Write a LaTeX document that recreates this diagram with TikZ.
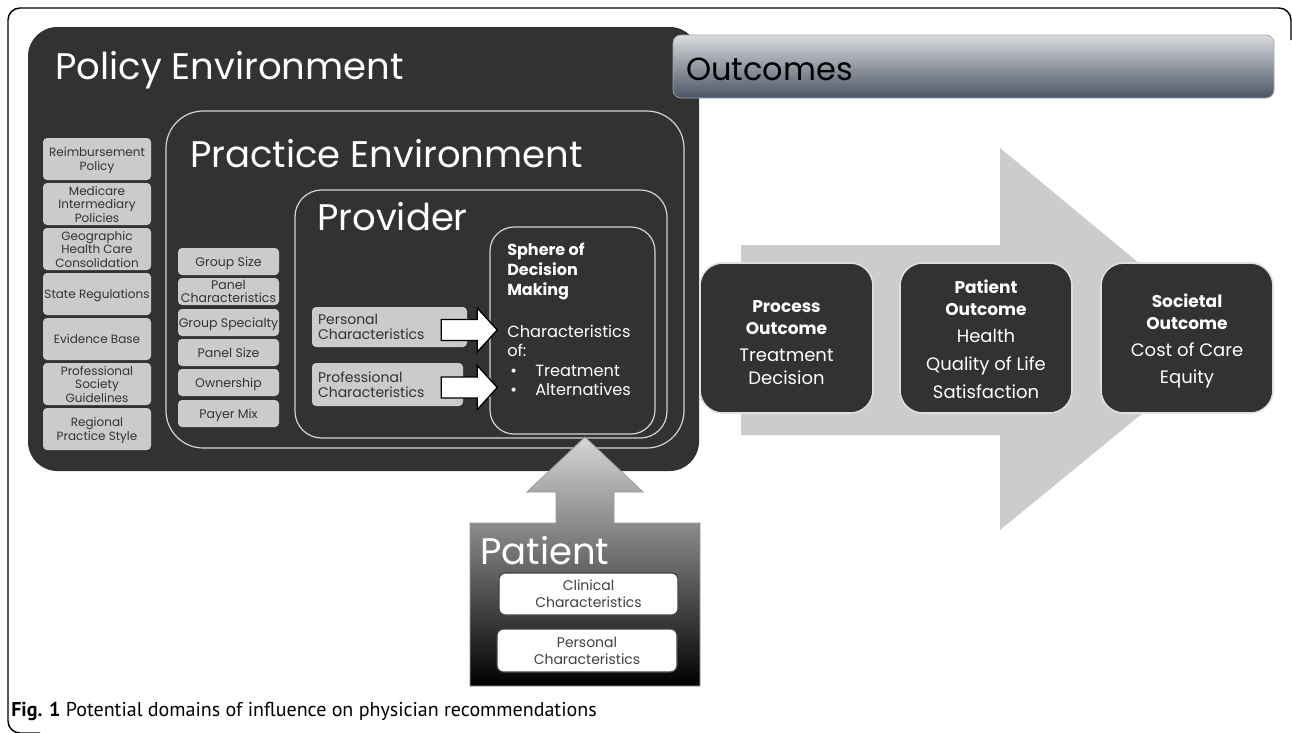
\documentclass[tikz,border=0pt]{standalone}
\usepackage{fontspec}
\setmainfont{Poppins}
\newfontfamily\capfont{PT Sans}
\usetikzlibrary{calc,fit}
\definecolor{dark}{HTML}{323232}
\definecolor{lightbox}{HTML}{CBCBCB}
\definecolor{linegray}{HTML}{D4D4D4}
\definecolor{arrowgray}{HTML}{CCCCCC}
\definecolor{textdark}{HTML}{333333}
\definecolor{bartop}{HTML}{DADCDF}
\definecolor{barbot}{HTML}{4A5464}
\definecolor{pattop}{HTML}{D6D6D6}
\newcommand\pxs[2]{\fontsize{\fpeval{#1*0.75}pt}{\fpeval{#2*0.75}pt}\selectfont}
\newcommand\cstack[1]{\begin{tabular}{@{}c@{}}#1\end{tabular}}
\newcommand\lstack[1]{\begin{tabular}{@{}l@{}}#1\end{tabular}}
\begin{document}
\begin{tikzpicture}[x=0.75pt,y=-0.75pt,
  graybox/.style={fill=lightbox, draw=none, rounded corners=3pt, inner sep=0pt},
  gtext/.style={anchor=center, inner sep=0pt, yshift=-1.5pt, text=textdark, font=\pxs{12}{13.5}},
  mtext/.style={gtext, font=\pxs{12.5}{13}},
  ptext/.style={anchor=west, inner sep=0pt, yshift=-1.5pt, text=textdark, font=\pxs{14}{15}},
  outline/.style={draw=linegray, line width=0.9pt, inner sep=0pt},
  title/.style={anchor=base west, text=white, font=\pxs{37}{40}, inner sep=0pt},
  outbox/.style={fill=dark, draw=gray!25, line width=1.2pt, rounded corners=17pt, inner sep=0pt},
  otext/.style={anchor=base, text=white, inner sep=0pt, font=\pxs{18}{20}},
  obold/.style={otext, font=\bfseries\pxs{17}{20}},
  stext/.style={anchor=base west, text=white, inner sep=0pt, font=\pxs{16.2}{20}},
  sbold/.style={stext, font=\bfseries\pxs{16}{20}},
  whitearr/.style={fill=white, draw=black, line width=1pt, line join=miter},
  patbox/.style={fill=white, draw=black!75, line width=0.8pt, rounded corners=5pt, inner sep=0pt},
  pattext/.style={anchor=center, inner sep=0pt, yshift=-1.5pt, text=black!75, font=\pxs{14}{17}}
]
\useasboundingbox (0,0) rectangle (1292,732);
% outer frame
\draw[line width=1.1pt, rounded corners=9pt] (1291,40) -- (1291,8) -- (8,8) -- (8,733) -- (40,733);
% big gray arrow
\fill[arrowgray] (741,245) -- (1000,245) -- (1000,148) -- (1232,340) -- (1000,530) -- (1000,435) -- (741,435) -- cycle;
% policy environment
\node[fill=dark, rounded corners=22pt, inner sep=0pt, fit={(28,27) (699,471)}] (policy) {};
\node[title] (poltitle) at (55,79) {Policy Environment};
% outcomes bar
\node[top color=bartop, bottom color=barbot, draw=gray!70, line width=0.5pt, rounded corners=6pt, inner sep=0pt, fit={(673,35) (1274,98)}] (outbar) {};
\node[anchor=base west, inner sep=0pt, font=\pxs{32}{36}] (outtitle) at (686,80) {Outcomes};
% practice
\node[outline, rounded corners=28pt, fit={(166,111) (684,448)}] (practice) {};
\node[title] (practitle) at (190,167) {Practice Environment};
% provider
\node[outline, rounded corners=20pt, fit={(295,190) (667,438)}] (provider) {};
\node[title] (provtitle) at (317,230) {Provider};
% sphere
\node[outline, rounded corners=18pt, fit={(490,227) (655,434)}] (sphere) {};
\node[sbold] (sp1) at (507,255) {Sphere of};
\node[sbold] (sp2) at (507,275) {Decision};
\node[sbold] (sp3) at (507,295) {Making};
\node[stext] (sp4) at (507,337) {Characteristics};
\node[stext] (sp5) at (507,356) {of:};
\node[stext] (sb1) at (510,376) {•};
\node[stext] (sp6) at (535,376) {Treatment};
\node[stext] (sb2) at (510,395) {•};
\node[stext] (sp7) at (535,395) {Alternatives};
% left column
\foreach \t [count=\i] in {{Reimbursement\\Policy},{Medicare\\Intermediary\\Policies},{Geographic\\Health Care\\Consolidation},{State Regulations},{Evidence Base},{Professional\\Society\\Guidelines},{Regional\\Practice Style}}{
  \node[graybox, fit={(43,{138+45*(\i-1)}) (151,{180+45*(\i-1)})}] (pol\i) {};
  \node[gtext] (polt\i) at (pol\i.center) {\cstack{\t}};
}
% middle column
\foreach \t/\y [count=\i] in {{Group Size}/248,{Panel\\Characteristics}/278,{Group Specialty}/309,{Panel Size}/339,{Ownership}/369,{Payer Mix}/400}{
  \node[graybox, fit={(178,\y) (279,\y+27)}] (pr\i) {};
  \node[mtext] (prt\i) at (pr\i.center) {\cstack{\t}};
}
% provider characteristics
\node[graybox, fit={(312,307) (467,347)}] (pers) {};
\node[ptext] (perst) at ($(pers.west)+(6,0)$) {\lstack{Personal\\Characteristics}};
\node[graybox, fit={(312,363) (463,406)}] (prof) {};
\node[ptext] (proft) at ($(prof.west)+(6,0)$) {\lstack{Professional\\Characteristics}};
\draw[whitearr] ($(pers.east)+(-26,3)$) ++(0,-10.5) -- ++(36,0) -- ++(0,-11.5) -- ++(20,22) -- ++(-20,22) -- ++(0,-11.5) -- ++(-36,0) -- cycle;
\draw[whitearr] ($(prof.east)+(-22,3)$) ++(0,-10.5) -- ++(36,0) -- ++(0,-11.5) -- ++(20,22) -- ++(-20,22) -- ++(0,-11.5) -- ++(-36,0) -- cycle;
% outcome boxes
\node[outbox, fit={(700,263) (873,413)}] (proc) {};
\node[outbox, fit={(900,263) (1072,413)}] (pato) {};
\node[outbox, fit={(1101,263) (1273,413)}] (soc) {};
\node[obold] at (786.5,312) {Process};
\node[obold] at (786.5,334) {Outcome};
\node[otext] at (786.5,361) {Treatment};
\node[otext] at (786.5,384) {Decision};
\node[obold] at (986,293) {Patient};
\node[obold] at (986,315) {Outcome};
\node[otext] at (986,342) {Health};
\node[otext] at (986,370) {Quality of Life};
\node[otext] at (986,398) {Satisfaction};
\node[obold] at (1187,307) {Societal};
\node[obold] at (1187,329) {Outcome};
\node[otext] at (1187,356) {Cost of Care};
\node[otext] at (1187,383) {Equity};
% patient
\shade[top color=pattop, bottom color=black, draw=gray!80, line width=0.6pt]
  (585,437) -- (643,492) -- (614,492) -- (614,523) -- (700,523) -- (700,686) -- (470,686) -- (470,523) -- (556,523) -- (556,492) -- (527,492) -- cycle;
\node[title] (pattitle) at (480,564) {Patient};
\node[patbox, fit={(499,573) (678,615)}] (clin) {};
\node[pattext] (clint) at (clin.center) {\cstack{Clinical\\Characteristics}};
\node[patbox, fit={(497,629) (677,672)}] (ppers) {};
\node[pattext] (ppert) at (ppers.center) {\cstack{Personal\\Characteristics}};
% caption
\node[anchor=base west, inner sep=0pt, font=\capfont\pxs{20}{22}] (cap) at (11,716) {\textbf{Fig. 1} Potential domains of influence on physician recommendations};
\end{tikzpicture}
\end{document}
